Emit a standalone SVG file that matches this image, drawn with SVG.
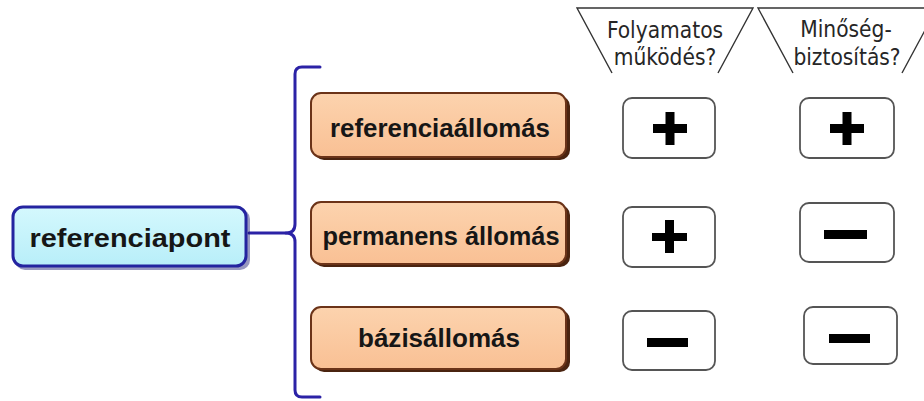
<svg xmlns="http://www.w3.org/2000/svg" width="924" height="401" viewBox="0 0 924 401">
<defs>
<style>
.lbl{font-family:"Liberation Sans",Arial,sans-serif;font-weight:bold;font-size:25px;fill:#161616;text-anchor:middle}
.hdr{font-family:"DejaVu Sans Condensed","DejaVu Sans",sans-serif;font-size:22.5px;fill:#262626;text-anchor:middle}
.oshadow{fill:#4a2410}
.sbox{fill:#fff;stroke:#555;stroke-width:1.8}
.sign{fill:#000}
.trap{fill:none;stroke:#333;stroke-width:1.4}
.conn{fill:none;stroke:#2b22a6;stroke-width:3;stroke-linecap:round;stroke-linejoin:round}
</style>
<linearGradient id="cy" x1="0" y1="0" x2="0" y2="1">
<stop offset="0" stop-color="#d4f8fd"/>
<stop offset="1" stop-color="#b8eef9"/>
</linearGradient>
<linearGradient id="og" x1="0" y1="0" x2="0" y2="1">
<stop offset="0" stop-color="#fcd3ae"/>
<stop offset="1" stop-color="#f9c094"/>
</linearGradient>
</defs>
<rect width="924" height="401" fill="#fff"/>

<g id="connectors">
<path class="conn" d="M 249 233 L 286 233"/>
<path class="conn" d="M 320 67 L 302 67 Q 295 67 295 74 L 295 224 Q 295 233 286 233 Q 295 233 295 242 L 295 390 Q 295 397 302 397 L 320 397"/>
</g>

<g id="referenciapont">
<rect x="15" y="209" width="235" height="61" rx="10" fill="#1a1a70" opacity="0.45"/>
<rect x="13" y="207" width="233" height="59" rx="10" fill="url(#cy)" stroke="#2424a0" stroke-width="3"/>
<text class="lbl" x="130" y="247" font-size="26" textLength="201" lengthAdjust="spacingAndGlyphs">referenciapont</text>
</g>

<g id="referenciaallomas">
<rect class="oshadow" x="314" y="96" width="256" height="64" rx="10"/>
<rect x="311" y="93" width="255" height="64" rx="10" fill="url(#og)" stroke="#6b3318" stroke-width="2"/>
<text class="lbl" x="440" y="137" textLength="220" lengthAdjust="spacingAndGlyphs">referenciaállomás</text>
</g>

<g id="permanens">
<rect class="oshadow" x="314" y="205" width="256" height="62" rx="10"/>
<rect x="311" y="202" width="255" height="62" rx="10" fill="url(#og)" stroke="#6b3318" stroke-width="2"/>
<text class="lbl" x="441" y="245" textLength="237" lengthAdjust="spacingAndGlyphs">permanens állomás</text>
</g>

<g id="bazisallomas">
<rect class="oshadow" x="314" y="310" width="256" height="62" rx="10"/>
<rect x="311" y="307" width="255" height="62" rx="10" fill="url(#og)" stroke="#6b3318" stroke-width="2"/>
<text class="lbl" x="439" y="347" textLength="162" lengthAdjust="spacingAndGlyphs">bázisállomás</text>
</g>

<g id="hdr-folyamatos">
<polyline class="trap" points="612,73 577,8 753,8 718,73"/>
<text class="hdr" x="665" y="38">Folyamatos</text>
<text class="hdr" x="665" y="65">működés?</text>
</g>

<g id="hdr-minoseg">
<polyline class="trap" points="793,73 758,8 937,8 902,73"/>
<text class="hdr" x="846" y="37">Minőség-</text>
<text class="hdr" x="847" y="65">biztosítás?</text>
</g>

<g id="c1r1">
<rect class="sbox" x="623" y="98" width="92" height="60" rx="9"/>
<rect class="sign" x="653" y="124" width="34" height="9"/>
<rect class="sign" x="665.5" y="112" width="9" height="33"/>
</g>
<g id="c2r1">
<rect class="sbox" x="800" y="98" width="94" height="60" rx="9"/>
<rect class="sign" x="830" y="124" width="34" height="9"/>
<rect class="sign" x="842.5" y="112" width="9" height="33"/>
</g>
<g id="c1r2">
<rect class="sbox" x="623" y="207" width="92" height="60" rx="9"/>
<rect class="sign" x="652" y="233" width="35" height="8"/>
<rect class="sign" x="665" y="220" width="9" height="33"/>
</g>
<g id="c2r2">
<rect class="sbox" x="800" y="203" width="94" height="59" rx="9"/>
<rect class="sign" x="824" y="230" width="43" height="9"/>
</g>
<g id="c1r3">
<rect class="sbox" x="623" y="311" width="92" height="59" rx="9"/>
<rect class="sign" x="647" y="338" width="41" height="9"/>
</g>
<g id="c2r3">
<rect class="sbox" x="804" y="307" width="93" height="57" rx="9"/>
<rect class="sign" x="829" y="334" width="41" height="9"/>
</g>
</svg>
